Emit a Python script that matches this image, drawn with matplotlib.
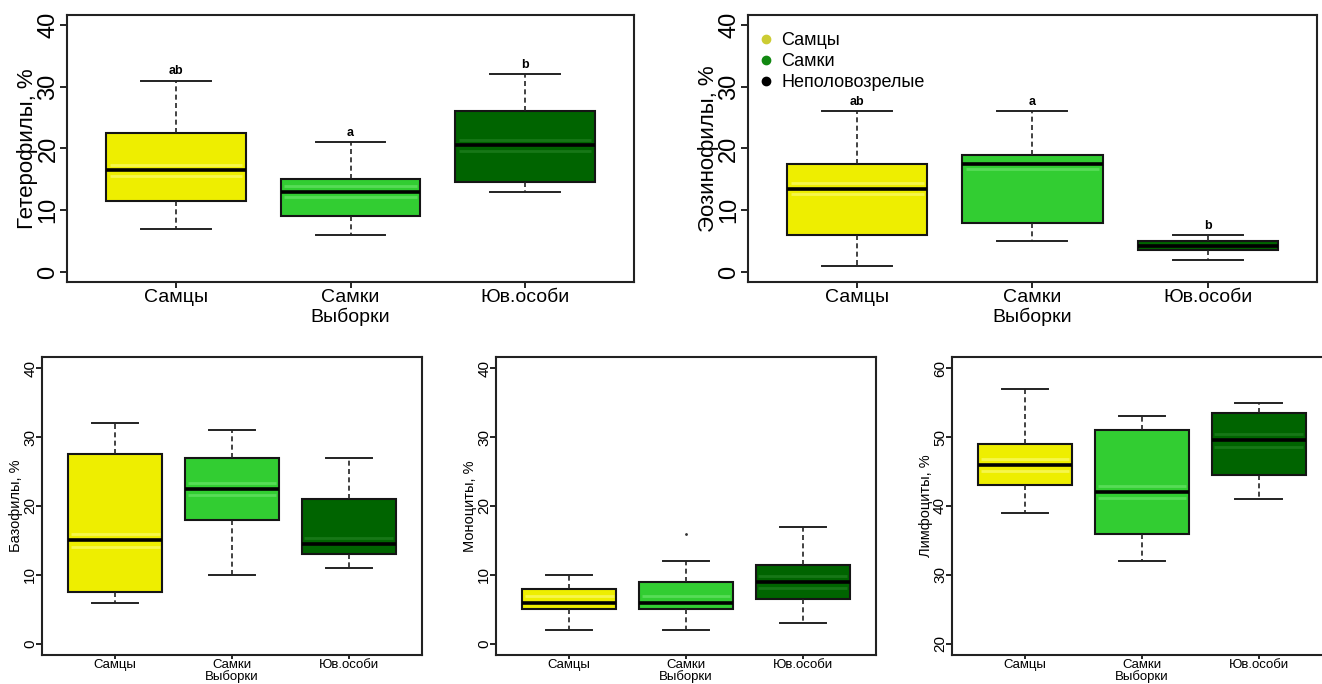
import matplotlib
matplotlib.use('Agg')
import matplotlib.pyplot as plt
from matplotlib.lines import Line2D

plt.rcParams['font.family'] = ['Liberation Sans', 'DejaVu Sans']

groups = ['Самцы', 'Самки', 'Юв.особи']
legend_labels = ['Самцы', 'Самки', 'Неполовозрелые']
box_colors = ['#EEEE00', '#32CD32', '#006400']
glow_colors = ['#FFFF99', '#7CEB7C', '#2E8B2E']
legend_colors = ['#CCCC33', '#118811', '#000000']

# Гетерофилы
het_lo = [7, 6, 13]
het_q1 = [11.5, 9, 14.5]
het_med = [16.5, 13, 20.5]
het_q3 = [22.5, 15, 26]
het_hi = [31, 21, 32]
het_letters = ['ab', 'a', 'b']

# Эозинофилы
eos_lo = [1, 5, 2]
eos_q1 = [6, 8, 3.5]
eos_med = [13.5, 17.5, 4.3]
eos_q3 = [17.5, 19, 5]
eos_hi = [26, 26, 6]
eos_letters = ['ab', 'a', 'b']

# Базофилы
bas_lo = [6, 10, 11]
bas_q1 = [7.5, 18, 13]
bas_med = [15, 22.5, 14.5]
bas_q3 = [27.5, 27, 21]
bas_hi = [32, 31, 27]

# Моноциты
mon_lo = [2, 2, 3]
mon_q1 = [5, 5, 6.5]
mon_med = [6, 6, 9]
mon_q3 = [8, 9, 11.5]
mon_hi = [10, 12, 17]
mon_fliers = [[], [16], []]

# Лимфоциты
lym_lo = [39, 32, 41]
lym_q1 = [43, 36, 44.5]
lym_med = [46, 42, 49.5]
lym_q3 = [49, 51, 53.5]
lym_hi = [57, 53, 55]

yticks_40 = [0, 10, 20, 30, 40]
yticks_60 = [20, 30, 40, 50, 60]


def stats(lo, q1, med, q3, hi, fliers=None):
    out = []
    for i in range(len(lo)):
        out.append({'whislo': lo[i], 'q1': q1[i], 'med': med[i], 'q3': q3[i],
                    'whishi': hi[i], 'fliers': fliers[i] if fliers else []})
    return out


def draw(ax, st, yticks, ylabel, big, letters=None, hi=None):
    bp = ax.bxp(st, positions=[1, 2, 3], widths=0.8, capwidths=0.4,
                patch_artist=True, showfliers=True,
                boxprops=dict(edgecolor='#151515', linewidth=1.5),
                medianprops=dict(color='black', linewidth=2.6),
                whiskerprops=dict(color='#222222', linewidth=1.2, linestyle=(0, (3, 2))),
                capprops=dict(color='#222222', linewidth=1.4),
                flierprops=dict(marker='.', markersize=2, color='#333333',
                                markerfacecolor='#333333', markeredgecolor='#333333'))
    for patch, c in zip(bp['boxes'], box_colors):
        patch.set_facecolor(c)
    span = yticks[-1] - yticks[0]
    # soft light band next to the median, as in the original rendering
    for i, s in enumerate(st):
        off = 0.022 * span
        for y in (s['med'] + off, s['med'] - off):
            if s['q1'] + off < y < s['q3'] - off:
                ax.plot([i + 0.62, i + 1.38], [y, y], color=glow_colors[i],
                        lw=2, alpha=0.5, zorder=2.5, solid_capstyle='butt')
    ax.set_xlim(0.375, 3.625)
    ax.set_ylim(yticks[0] - 0.04 * span, yticks[-1] + 0.04 * span)
    ax.set_yticks(yticks)
    ax.set_xticks([1, 2, 3])
    for s in ax.spines.values():
        s.set_linewidth(1.5)
        s.set_color('#222222')
    if big:
        ax.set_xticklabels(groups, fontsize=14)
        ax.tick_params(axis='x', length=4, width=1.2, pad=1)
        ax.tick_params(axis='y', length=5, width=1.2, pad=0.5, labelsize=17)
        ax.set_xlabel('Выборки', fontsize=14)
        ax.xaxis.set_label_coords(0.5, -0.097)
        ax.text(-0.069, 0.5, ylabel, transform=ax.transAxes, rotation=90,
                ha='center', va='center', fontsize=16)
    else:
        ax.set_xticklabels(groups, fontsize=9.5)
        ax.tick_params(axis='x', length=3, width=1.2, pad=0)
        ax.tick_params(axis='y', length=4, width=1.2, pad=-0.5, labelsize=11)
        ax.set_xlabel('Выборки', fontsize=9.5)
        ax.xaxis.set_label_coords(0.5, -0.052)
        ax.text(-0.069, 0.5, ylabel, transform=ax.transAxes, rotation=90,
                ha='center', va='center', fontsize=10.5)
    for lbl in ax.get_yticklabels():
        lbl.set_rotation(90)
        lbl.set_va('center')
    if letters:
        for i, t in enumerate(letters):
            ax.text(i + 1, hi[i] + 1.5, t, ha='center', va='center',
                    fontsize=9, fontweight='bold')


fig = plt.figure(figsize=(13.22, 6.84), dpi=100)

ax1 = fig.add_axes([0.0507, 0.5877, 0.4289, 0.3904])
draw(ax1, stats(het_lo, het_q1, het_med, het_q3, het_hi), yticks_40,
     'Гетерофилы, %', True, het_letters, het_hi)

ax2 = fig.add_axes([0.5658, 0.5877, 0.4304, 0.3904])
draw(ax2, stats(eos_lo, eos_q1, eos_med, eos_q3, eos_hi), yticks_40,
     'Эозинофилы, %', True, eos_letters, eos_hi)
handles = [Line2D([0], [0], marker='o', linestyle='none', markersize=6,
                  markerfacecolor=c, markeredgecolor=c) for c in legend_colors]
ax2.legend(handles, legend_labels, loc='upper left', bbox_to_anchor=(-0.006, 0.99),
           frameon=False, fontsize=13, handlelength=0.8, handletextpad=0.45,
           labelspacing=0.22, borderaxespad=0.4)

ax3 = fig.add_axes([0.0318, 0.0424, 0.2874, 0.4357])
draw(ax3, stats(bas_lo, bas_q1, bas_med, bas_q3, bas_hi), yticks_40,
     'Базофилы, %', False)

ax4 = fig.add_axes([0.3752, 0.0424, 0.2874, 0.4357])
draw(ax4, stats(mon_lo, mon_q1, mon_med, mon_q3, mon_hi, mon_fliers), yticks_40,
     'Моноциты, %', False)

ax5 = fig.add_axes([0.7201, 0.0424, 0.2874, 0.4357])
draw(ax5, stats(lym_lo, lym_q1, lym_med, lym_q3, lym_hi), yticks_60,
     'Лимфоциты, %', False)

fig.savefig('out.png', dpi=100)
